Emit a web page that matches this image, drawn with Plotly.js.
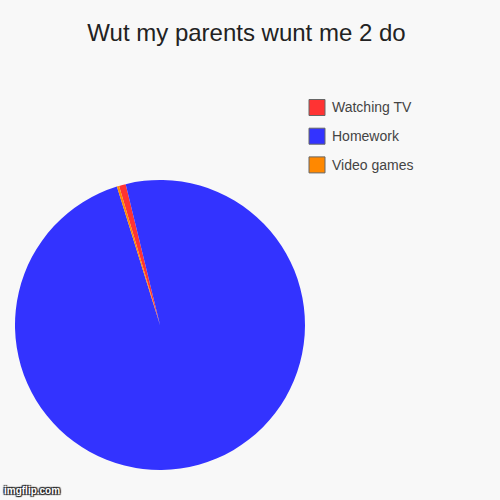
<!DOCTYPE html>
<html>
<head>
<meta charset="utf-8">
<script src="https://cdn.plot.ly/plotly-3.0.1.min.js"></script>
<style>
  html, body { margin: 0; padding: 0; background: #f8f8f8; }
</style>
</head>
<body>
<div id="myDiv" style="width:500px;height:500px;"></div>
<script>
  // slices, clockwise from the red one
  var labels = ["Watching TV", "Homework", "Video games"];
  var values = [0.75, 99, 0.25];
  var colors = ["#ff3333", "#3333ff", "#ff8800"];

  var data = [
    {
      type: "pie",
      labels: labels,
      values: values,
      marker: { colors: colors, line: { width: 0 } },
      sort: false,
      direction: "clockwise",
      rotation: -16.4,
      textinfo: "none",
      hoverinfo: "label+value",
      showlegend: false,
      domain: { x: [0.03, 0.61], y: [0.06, 0.64] }
    }
  ];

  // legend drawn by hand so the rows can sit 29px apart
  var shapes = [];
  var annotations = [];
  labels.forEach(function (lab, i) {
    var yc = 107.5 + i * 28.7; // px from top
    shapes.push({
      type: "rect", xref: "paper", yref: "paper",
      x0: 309 / 500, x1: 325 / 500,
      y0: 1 - (yc + 8) / 500, y1: 1 - (yc - 8) / 500,
      fillcolor: colors[i], line: { color: "#666", width: 1 }
    });
    annotations.push({
      xref: "paper", yref: "paper",
      x: 330 / 500, y: 1 - yc / 500,
      xanchor: "left", yanchor: "middle",
      text: lab, showarrow: false,
      font: { size: 14, color: "#444", family: "Liberation Sans" }
    });
  });

  annotations.push({
    x: 0.004, y: 0.004, xref: "paper", yref: "paper",
    xanchor: "left", yanchor: "bottom",
    text: "<b>imgflip.com</b>", showarrow: false,
    font: {
      size: 10, color: "#ffffff", family: "Liberation Sans",
      shadow: "1px 1px 1px #222, -1px -1px 1px #222, 1px -1px 1px #222, -1px 1px 1px #222"
    }
  });

  var layout = {
    width: 500,
    height: 500,
    margin: { t: 0, b: 0, l: 0, r: 0 },
    paper_bgcolor: "#f8f8f8",
    plot_bgcolor: "#f8f8f8",
    font: { family: "Liberation Sans", color: "#333" },
    title: {
      text: "Wut my parents wunt me 2 do",
      font: { size: 24, color: "#222", family: "Liberation Sans" },
      x: 0.493, xanchor: "center",
      y: 0.935, yanchor: "middle"
    },
    shapes: shapes,
    annotations: annotations
  };

  Plotly.newPlot('myDiv', data, layout, { displayModeBar: false });
</script>
</body>
</html>
